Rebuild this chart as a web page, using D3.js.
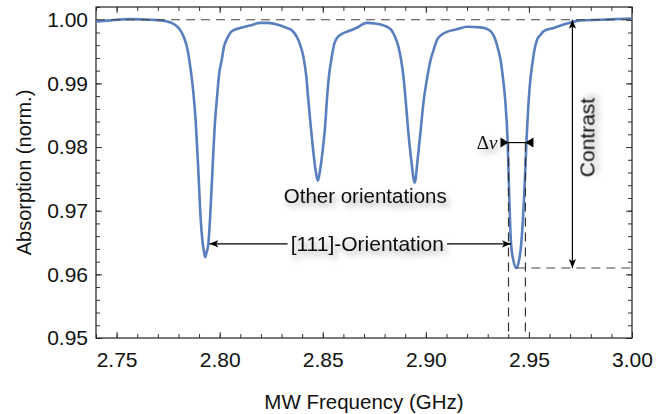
<!DOCTYPE html>
<html>
<head>
<meta charset="utf-8">
<script src="https://cdn.jsdelivr.net/npm/d3@7"></script>
<style>
  body { margin: 0; background: #fff; }
  text { font-family: "Liberation Sans", Arial, sans-serif; fill: #111; }
  .axis path { display: none; }
  .axis line { stroke: #333; }
</style>
</head>
<body>
<div id="chart"></div>
<script>
// spectrum (GHz, normalised absorption)
var freq = [2.7400, 2.7468, 2.7565, 2.7662, 2.7735, 2.7783, 2.7808, 2.7827, 2.7842, 2.7856,
            2.7871, 2.7883, 2.7895, 2.7908, 2.7918, 2.7924, 2.7930, 2.7936, 2.7945, 2.7953,
            2.7965, 2.7978, 2.7986, 2.7997, 2.8010, 2.8021, 2.8034, 2.8059, 2.8099, 2.8148,
            2.8196, 2.8235, 2.8283, 2.8326, 2.8351, 2.8374, 2.8390, 2.8406, 2.8419, 2.8430,
            2.8441, 2.8453, 2.8465, 2.8476, 2.8487, 2.8500, 2.8512, 2.8520, 2.8531, 2.8544,
            2.8555, 2.8568, 2.8600, 2.8633, 2.8662, 2.8714, 2.8754, 2.8811, 2.8832, 2.8851,
            2.8866, 2.8880, 2.8893, 2.8902, 2.8914, 2.8929, 2.8946, 2.8960, 2.8975, 2.8990,
            2.9005, 2.9021, 2.9038, 2.9055, 2.9075, 2.9102, 2.9151, 2.9200, 2.9264, 2.9293,
            2.9317, 2.9337, 2.9351, 2.9364, 2.9376, 2.9385, 2.9397, 2.9405, 2.9413, 2.9424,
            2.9439, 2.9451, 2.9463, 2.9476, 2.9488, 2.9499, 2.9507, 2.9515, 2.9527, 2.9540,
            2.9556, 2.9572, 2.9620, 2.9685, 2.9750, 2.9847, 2.9920, 3.0000];
var absorption = [0.9997, 0.9999, 1.0001, 1.0000, 0.9998, 0.9992, 0.9984, 0.9972, 0.9956, 0.9929,
                  0.9890, 0.9843, 0.9772, 0.9686, 0.9648, 0.9635, 0.9627, 0.9634, 0.9648, 0.9686,
                  0.9764, 0.9843, 0.9874, 0.9914, 0.9937, 0.9958, 0.9969, 0.9982, 0.9987, 0.9991,
                  0.9995, 0.9995, 0.9992, 0.9987, 0.9983, 0.9973, 0.9961, 0.9942, 0.9914, 0.9874,
                  0.9835, 0.9796, 0.9764, 0.9747, 0.9764, 0.9796, 0.9835, 0.9874, 0.9914, 0.9942,
                  0.9961, 0.9971, 0.9979, 0.9983, 0.9987, 0.9995, 0.9994, 0.9989, 0.9984, 0.9973,
                  0.9959, 0.9937, 0.9906, 0.9874, 0.9827, 0.9780, 0.9744, 0.9780, 0.9827, 0.9874,
                  0.9906, 0.9934, 0.9953, 0.9969, 0.9976, 0.9981, 0.9985, 0.9989, 0.9988, 0.9986,
                  0.9981, 0.9969, 0.9953, 0.9934, 0.9903, 0.9874, 0.9807, 0.9717, 0.9649, 0.9623,
                  0.9610, 0.9620, 0.9649, 0.9717, 0.9807, 0.9874, 0.9906, 0.9927, 0.9953, 0.9969,
                  0.9976, 0.9982, 0.9987, 0.9994, 0.9999, 1.0000, 1.0001, 1.0002];

var xTicks = [2.75, 2.80, 2.85, 2.90, 2.95, 3.00];
var yTicks = [0.95, 0.96, 0.97, 0.98, 0.99, 1.00];

// annotation values
var deltaNu = [2.9401, 2.9483];   // linewidth markers
var deltaLevel = 0.9807;
var dipFreq = 2.9439, dipMin = 0.9610;
var contrastFreq = 2.9711;
var arrow111 = [2.7950, 2.9413], level111 = 0.9648;

var margin = {top: 7, right: 33, bottom: 76, left: 96},
    width = 665,
    height = 414,
    w = width - margin.left - margin.right,
    h = height - margin.top - margin.bottom;

var svg = d3.select("#chart").append("svg")
    .attr("width", width)
    .attr("height", height);

var defs = svg.append("defs");
var shadow = defs.append("filter").attr("id", "shadow")
    .attr("x", "-20%").attr("y", "-40%").attr("width", "150%").attr("height", "200%");
shadow.append("feDropShadow")
    .attr("dx", 3).attr("dy", 4).attr("stdDeviation", 3)
    .attr("flood-color", "#000").attr("flood-opacity", 0.35);

["arrowEnd", "arrowStart"].forEach(function(id, k) {
  defs.append("marker")
      .attr("id", id)
      .attr("viewBox", "0 0 10 10")
      .attr("refX", 10).attr("refY", 5)
      .attr("markerWidth", 9).attr("markerHeight", 9)
      .attr("markerUnits", "userSpaceOnUse")
      .attr("orient", k == 0 ? "auto" : "auto-start-reverse")
    .append("path")
      .attr("d", "M0,1 L10,5 L0,9 L2.5,5 Z")
      .attr("fill", "#000");
});

var g = svg.append("g")
    .attr("transform", "translate(" + margin.left + "," + margin.top + ")");

var x = d3.scaleLinear().domain([2.74, 3.00]).range([0, w]);
var y = d3.scaleLinear().domain([0.95, 1.002]).range([h, 0]);

var xMinor = d3.range(2.74, 3.0001, 0.01).map(function(d) { return +d.toFixed(2); });
var yMinor = d3.range(0.95, 1.0021, 0.002).map(function(d) { return +d.toFixed(3); });

// ticks, all pointing inward
g.append("g").attr("class", "axis")
    .attr("transform", "translate(0," + h + ")")
    .call(d3.axisBottom(x).tickValues(xMinor).tickSize(-4).tickFormat(""));
g.append("g").attr("class", "axis")
    .attr("transform", "translate(0," + h + ")")
    .call(d3.axisBottom(x).tickValues(xTicks).tickSize(-6).tickPadding(14).tickFormat(d3.format(".2f")))
    .selectAll("text").style("font-size", "21px");
g.append("g").attr("class", "axis")
    .call(d3.axisTop(x).tickValues(xMinor).tickSize(-4).tickFormat(""));
g.append("g").attr("class", "axis")
    .call(d3.axisTop(x).tickValues(xTicks).tickSize(-6).tickFormat(""));

g.append("g").attr("class", "axis")
    .call(d3.axisLeft(y).tickValues(yMinor).tickSize(-4).tickFormat(""));
g.append("g").attr("class", "axis")
    .call(d3.axisLeft(y).tickValues(yTicks).tickSize(-6).tickPadding(8).tickFormat(d3.format(".2f")))
    .selectAll("text").style("font-size", "21px");
g.append("g").attr("class", "axis")
    .attr("transform", "translate(" + w + ",0)")
    .call(d3.axisRight(y).tickValues(yMinor).tickSize(-4).tickFormat(""));
g.append("g").attr("class", "axis")
    .attr("transform", "translate(" + w + ",0)")
    .call(d3.axisRight(y).tickValues(yTicks).tickSize(-6).tickFormat(""));

g.append("rect")
    .attr("width", w).attr("height", h)
    .attr("fill", "none").attr("stroke", "#222").attr("stroke-width", 1.2);

// spectrum
var line = d3.line()
    .x(function(d) { return x(d[0]); })
    .y(function(d) { return y(d[1]); })
    .curve(d3.curveMonotoneX);

g.append("path")
    .datum(d3.zip(freq, absorption))
    .attr("fill", "none")
    .attr("stroke", "#5a7fbf")
    .attr("stroke-width", 2.6)
    .attr("d", line);

// dashed guide lines (drawn over the curve)
var dash = "9,6";
g.append("line")
    .attr("x1", 0).attr("x2", w).attr("y1", y(1.0)).attr("y2", y(1.0))
    .attr("stroke", "#444").attr("stroke-width", 1.2).attr("stroke-dasharray", dash);
g.append("line")
    .attr("x1", x(dipFreq)).attr("x2", w).attr("y1", y(dipMin)).attr("y2", y(dipMin))
    .attr("stroke", "#444").attr("stroke-width", 1.2).attr("stroke-dasharray", dash);
deltaNu.forEach(function(f) {
  g.append("line")
      .attr("x1", x(f)).attr("x2", x(f)).attr("y1", y(deltaLevel)).attr("y2", h)
      .attr("stroke", "#333").attr("stroke-width", 1.2).attr("stroke-dasharray", dash);
});

// contrast arrow
g.append("line")
    .attr("x1", x(contrastFreq)).attr("x2", x(contrastFreq))
    .attr("y1", y(dipMin)).attr("y2", y(1.0))
    .attr("stroke", "#000").attr("stroke-width", 1.2)
    .attr("marker-start", "url(#arrowStart)")
    .attr("marker-end", "url(#arrowEnd)");
g.append("text")
    .attr("transform", "translate(" + (x(contrastFreq) + 22) + "," + y(0.9815) + ") rotate(-90)")
    .attr("text-anchor", "middle")
    .attr("filter", "url(#shadow)")
    .style("font-size", "21px")
    .text("Contrast");

// linewidth markers
g.append("line")
    .attr("x1", x(deltaNu[0]) - 7).attr("x2", x(deltaNu[1]) + 7)
    .attr("y1", y(deltaLevel)).attr("y2", y(deltaLevel))
    .attr("stroke", "#000").attr("stroke-width", 1.2);
deltaNu.forEach(function(f, k) {
  var s = k == 0 ? 1 : -1, px = x(f), py = y(deltaLevel);
  g.append("path")
      .attr("d", "M" + px + "," + py + " L" + (px - s * 8) + "," + (py - 5) + " L" + (px - s * 8) + "," + (py + 5) + " Z")
      .attr("fill", "#000");
});
g.append("text")
    .attr("x", x(deltaNu[0]) - 11).attr("y", y(deltaLevel) + 6)
    .attr("text-anchor", "end")
    .attr("filter", "url(#shadow)")
    .style("font-family", "'Liberation Serif', 'Times New Roman', serif")
    .style("font-size", "19px")
    .html("Δ<tspan font-style='italic'>ν</tspan>");

// labels for the dips
g.append("text")
    .attr("x", x(2.8706)).attr("y", y(0.9712))
    .attr("text-anchor", "middle")
    .attr("filter", "url(#shadow)")
    .style("font-size", "20.5px")
    .text("Other orientations");

var label111 = g.append("text")
    .attr("x", x(2.8716)).attr("y", y(level111))
    .attr("dy", "0.35em")
    .attr("text-anchor", "middle")
    .attr("filter", "url(#shadow)")
    .style("font-size", "21px")
    .text("[111]-Orientation");
var bb = label111.node().getBBox();
g.append("line")
    .attr("x1", bb.x - 3).attr("x2", x(arrow111[0]))
    .attr("y1", y(level111)).attr("y2", y(level111))
    .attr("stroke", "#000").attr("stroke-width", 1.2)
    .attr("marker-end", "url(#arrowEnd)");
g.append("line")
    .attr("x1", bb.x + bb.width + 3).attr("x2", x(arrow111[1]))
    .attr("y1", y(level111)).attr("y2", y(level111))
    .attr("stroke", "#000").attr("stroke-width", 1.2)
    .attr("marker-end", "url(#arrowEnd)");

// axis titles
svg.append("text")
    .attr("x", margin.left + w / 2).attr("y", 409)
    .attr("text-anchor", "middle")
    .style("font-size", "20.5px")
    .text("MW Frequency (GHz)");
svg.append("text")
    .attr("transform", "translate(31," + (margin.top + h / 2) + ") rotate(-90)")
    .attr("text-anchor", "middle")
    .style("font-size", "20px")
    .text("Absorption (norm.)");
</script>
</body>
</html>
